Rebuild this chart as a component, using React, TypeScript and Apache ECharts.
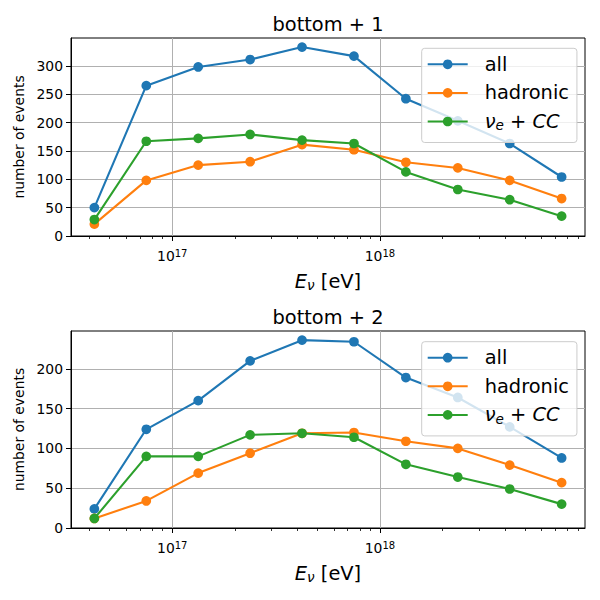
import React, { useEffect, useRef } from "react";
import * as echarts from "echarts";

// log10 of the energy bin centres (eV)
const logEnergy = [16.625, 16.875, 17.125, 17.375, 17.625, 17.875, 18.125, 18.375, 18.625, 18.875];

const titles = ["bottom + 1", "bottom + 2"];
const seriesNames = ["all", "hadronic", "νe + CC"];
const colors = ["#1f77b4", "#ff7f0e", "#2ca02c"];

// bottom + 1
const all1 = [50, 265, 298, 311, 333, 317, 242, 203, 163, 104];
const hadronic1 = [21, 98, 125, 131, 161, 152, 130, 120, 98, 66];
const nueCC1 = [29, 167, 172, 179, 169, 163, 113, 82, 64, 35];

// bottom + 2
const all2 = [24, 124, 160, 210, 236, 234, 189, 164, 127, 88];
const hadronic2 = [12, 34, 69, 94, 119, 120, 109, 100, 79, 57];
const nueCC2 = [12, 90, 90, 117, 119, 114, 80, 64, 49, 30];

const majorTicks = [17, 18];
const minorMultipliers = [2, 3, 4, 5, 6, 7, 8, 9];
const minorDecades = [16, 17, 18];
const yTicks1 = [0, 50, 100, 150, 200, 250, 300];
const yTicks2 = [0, 50, 100, 150, 200];
const yMax = [349, 247.5];
const xRange = [16.5125, 18.9875];

const panels = [
  [all1, hadronic1, nueCC1],
  [all2, hadronic2, nueCC2],
];
const yTicks = [yTicks1, yTicks2];

const FONT = "DejaVu Sans";

export default function App() {
  const ref = useRef<HTMLDivElement>(null);

  useEffect(() => {
    if (!ref.current) return;
    const chart = echarts.init(ref.current, undefined, { renderer: "svg" });

    const minorTicks: number[] = [];
    minorDecades.forEach((d) =>
      minorMultipliers.forEach((m) => {
        const v = d + Math.log10(m);
        if (v > xRange[0] && v < xRange[1]) minorTicks.push(v);
      })
    );

    const grids = [
      { left: 71, top: 38, width: 514, height: 198 },
      { left: 71, top: 331, width: 514, height: 197 },
    ];
    const legendTops = [48.3, 341.7];
    const titleTops = [15, 308];

    const subRich = {
      i: { fontSize: 19.4, fontStyle: "italic", fontFamily: FONT, color: "#000" },
      n: { fontSize: 19.4, fontFamily: FONT, color: "#000" },
      s: {
        fontSize: 13.6,
        fontStyle: "italic",
        fontFamily: FONT,
        color: "#000",
        verticalAlign: "top",
        padding: [8, 0, 0, 0],
      },
    };

    const xAxes: any[] = [];
    const yAxes: any[] = [];
    grids.forEach((_, gi) => {
      xAxes.push({
        type: "value",
        gridIndex: gi,
        position: "bottom",
        min: xRange[0],
        max: xRange[1],
        axisLine: { show: true, onZero: false, lineStyle: { color: "#000", width: 1 } },
        axisTick: {
          show: true,
          length: 5,
          customValues: majorTicks,
          lineStyle: { color: "#000", width: 1 },
        },
        axisLabel: {
          customValues: majorTicks,
          margin: 12.5,
          formatter: (v: number) => `{b|10}{s|${Math.round(v)}}`,
          rich: {
            b: { fontSize: 13.9, fontFamily: FONT, color: "#000" },
            s: { fontSize: 10, fontFamily: FONT, color: "#000", verticalAlign: "top" },
          },
        },
        splitLine: { show: true, lineStyle: { color: "#b0b0b0", width: 1 } },
        name: "{i|E}{s|ν}{n| [eV]}",
        nameLocation: "middle",
        nameGap: 34,
        nameTextStyle: { rich: subRich },
      });
      xAxes.push({
        type: "value",
        gridIndex: gi,
        position: "bottom",
        min: xRange[0],
        max: xRange[1],
        axisLine: { show: false },
        axisTick: {
          show: true,
          length: 3,
          customValues: minorTicks,
          lineStyle: { color: "#000", width: 0.8 },
        },
        axisLabel: { show: false },
        splitLine: { show: false },
      });
      yAxes.push({
        type: "value",
        gridIndex: gi,
        position: "left",
        min: 0,
        max: yMax[gi],
        axisLine: { show: true, onZero: false, lineStyle: { color: "#000", width: 1 } },
        axisTick: {
          show: true,
          length: 5,
          customValues: yTicks[gi],
          lineStyle: { color: "#000", width: 1 },
        },
        axisLabel: {
          customValues: yTicks[gi],
          margin: 8,
          fontSize: 13.9,
          fontFamily: FONT,
          color: "#000",
        },
        splitLine: { show: true, lineStyle: { color: "#b0b0b0", width: 1 } },
        name: "number of events",
        nameLocation: "middle",
        nameGap: 42,
        nameTextStyle: { fontSize: 13.9, fontFamily: FONT, color: "#000" },
      });
    });

    const series: any[] = [];
    panels.forEach((vals, gi) => {
      vals.forEach((arr, si) => {
        series.push({
          type: "line",
          name: seriesNames[si],
          xAxisIndex: gi * 2,
          yAxisIndex: gi,
          data: logEnergy.map((x, j) => [x, arr[j]]),
          symbol: "circle",
          symbolSize: 9.7,
          showSymbol: true,
          lineStyle: { color: colors[si], width: 2.1 },
          itemStyle: { color: colors[si] },
          emphasis: { disabled: true },
          z: 2 + si,
        });
      });
    });

    const legendRich = {
      i: { fontSize: 19.4, fontStyle: "italic", fontFamily: FONT, color: "#000" },
      n: { fontSize: 19.4, fontFamily: FONT, color: "#000" },
      s: {
        fontSize: 13.6,
        fontStyle: "italic",
        fontFamily: FONT,
        color: "#000",
        verticalAlign: "top",
        padding: [8, 0, 0, 0],
      },
    };

    const legends = legendTops.map((t) => ({
      orient: "vertical",
      left: 421.7,
      top: t,
      data: seriesNames,
      itemWidth: 40,
      itemHeight: 12.1,
      itemGap: 9.6,
      padding: [6.5, 8, 10, 5],
      backgroundColor: "rgba(255,255,255,0.8)",
      borderColor: "#cccccc",
      borderWidth: 1,
      borderRadius: 3,
      selectedMode: false,
      formatter: (name: string) =>
        name === "νe + CC" ? "{i|ν}{s|e}{n| + }{i|CC}" : name,
      textStyle: {
        fontSize: 19.4,
        fontFamily: FONT,
        color: "#000",
        padding: [0, 0, 0, 12],
        rich: legendRich,
      },
    }));

    chart.setOption({
      animation: false,
      textStyle: { fontFamily: FONT },
      title: titles.map((t, i) => ({
        text: t,
        left: 328,
        top: titleTops[i],
        textAlign: "center",
        padding: 0,
        textStyle: { fontSize: 19.4, fontWeight: "normal", color: "#000", fontFamily: FONT },
      })),
      grid: grids.map((g) => ({
        ...g,
        show: true,
        borderColor: "#000",
        borderWidth: 1,
        backgroundColor: "transparent",
      })),
      legend: legends,
      xAxis: xAxes,
      yAxis: yAxes,
      series,
    });

    return () => chart.dispose();
  }, []);

  return (
    <div
      ref={ref}
      style={{ position: "absolute", left: 0, top: 0, width: 600, height: 600, background: "#fff" }}
    />
  );
}
